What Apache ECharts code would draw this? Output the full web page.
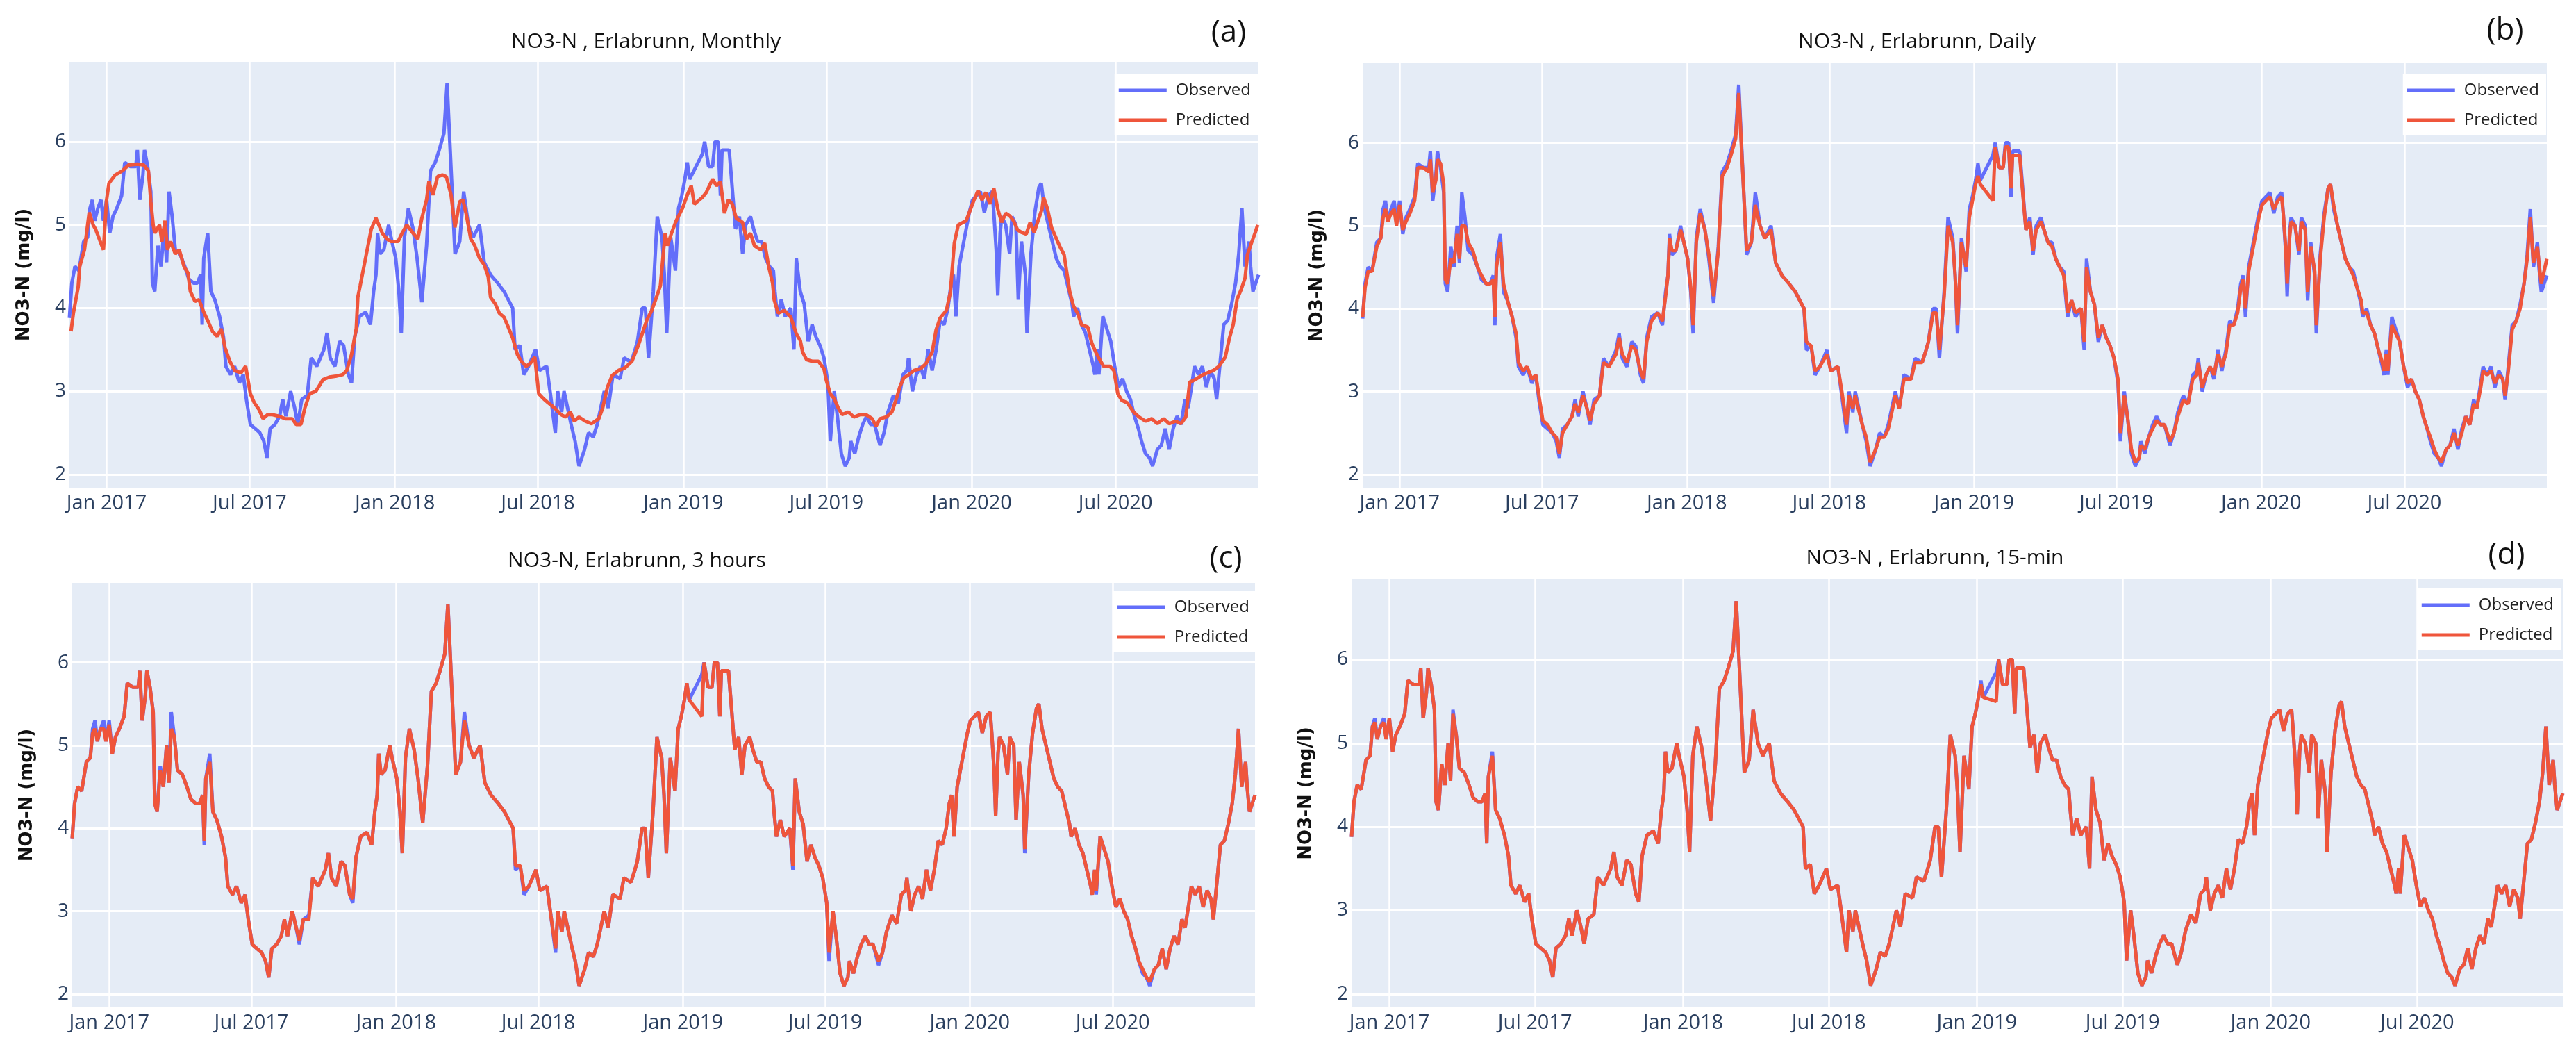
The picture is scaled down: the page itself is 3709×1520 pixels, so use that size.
<!DOCTYPE html>
<html><head><meta charset="utf-8">
<script src="https://cdn.jsdelivr.net/npm/echarts@6/dist/echarts.min.js"></script>
<style>html,body{margin:0;padding:0;background:#fff}#c{width:3709px;height:1520px}</style>
</head><body><div id="c"></div><script>
// ---------- DATA ----------
const startDate = '2016-11-15';   // day 0
const endDay = 1505;
const xTickDates = ['2017-01-01','2017-07-01','2018-01-01','2018-07-01','2019-01-01','2019-07-01','2020-01-01','2020-07-01'];
const xTickLabels = ['Jan 2017','Jul 2017','Jan 2018','Jul 2018','Jan 2019','Jul 2019','Jan 2020','Jul 2020'];
const yTicks = [2,3,4,5,6];
const panelTitles = ['NO3-N , Erlabrunn, Monthly','NO3-N , Erlabrunn, Daily','NO3-N, Erlabrunn, 3 hours','NO3-N , Erlabrunn, 15-min'];
const panelTags = ['(a)','(b)','(c)','(d)'];
const seriesNames = ['Observed','Predicted'];

// observed NO3-N, days since startDate
const obsDay = [
0,3,7,12,18,23,26,29,32,36,
40,43,47,51,55,60,66,70,77,84,
86,89,93,95,99,103,105,108,112,116,
120,123,126,130,134,140,146,151,157,162,
166,168,170,175,179,184,190,195,198,204,
209,215,220,224,229,235,241,246,250,254,
260,266,270,274,280,285,289,294,301,306,
313,322,326,330,336,342,347,353,357,361,
367,375,381,385,388,390,393,398,404,407,
413,417,420,424,429,435,440,446,452,457,
463,468,474,478,488,494,499,505,511,519,
525,533,542,550,561,564,570,575,581,590,
595,604,609,615,618,623,626,635,640,645,
652,657,663,668,677,682,688,697,702,711,
716,719,725,729,733,739,744,750,753,756,
761,767,771,775,779,782,785,801,804,809,
814,817,821,824,826,831,835,838,843,848,
852,856,862,866,871,876,881,886,891,893,
896,901,906,913,917,920,925,930,935,940,
945,950,955,960,963,968,972,977,982,987,
989,994,999,1004,1009,1014,1019,1026,1031,1036,
1043,1049,1055,1060,1062,1067,1072,1077,1082,1087,
1092,1097,1102,1107,1112,1116,1119,1122,1126,1130,
1134,1139,1143,1148,1153,1158,1163,1168,1170,1173,
1175,1178,1180,1185,1190,1193,1198,1201,1205,1210,
1212,1217,1222,1227,1230,1234,1239,1244,1249,1254,
1259,1264,1269,1271,1276,1281,1286,1291,1296,1298,
1301,1303,1308,1313,1318,1323,1328,1333,1338,1343,
1348,1353,1357,1362,1367,1371,1377,1382,1387,1392,
1397,1402,1407,1412,1416,1421,1424,1429,1434,1439,
1444,1449,1452,1456,1461,1466,1471,1476,1480,1484,
1488,1493,1495,1498,1505];
const obsVal = [
3.88,4.3,4.5,4.45,4.8,4.85,5.2,5.3,5.05,5.2,
5.3,5.05,5.3,4.9,5.1,5.2,5.35,5.75,5.7,5.7,
5.9,5.3,5.6,5.9,5.7,5.4,4.3,4.2,4.75,4.5,
5.0,4.55,5.4,5.1,4.7,4.65,4.5,4.35,4.3,4.3,
4.4,3.8,4.6,4.9,4.2,4.1,3.9,3.65,3.3,3.2,
3.3,3.1,3.2,2.9,2.6,2.55,2.5,2.4,2.2,2.55,
2.6,2.7,2.9,2.7,3.0,2.8,2.6,2.9,2.95,3.4,
3.3,3.5,3.7,3.4,3.3,3.6,3.55,3.2,3.1,3.65,
3.9,3.95,3.8,4.2,4.4,4.9,4.65,4.7,5.0,4.85,
4.6,4.2,3.7,4.85,5.2,4.95,4.6,4.07,4.75,5.65,
5.75,5.9,6.1,6.7,4.65,4.8,5.4,5.0,4.85,5.0,
4.55,4.4,4.3,4.2,4.0,3.5,3.55,3.2,3.3,3.5,
3.25,3.3,2.95,2.5,3.0,2.75,3.0,2.6,2.4,2.1,
2.3,2.5,2.45,2.6,3.0,2.8,3.2,3.15,3.4,3.35,
3.5,3.6,4.0,4.0,3.4,4.2,5.1,4.85,4.4,3.7,
4.85,4.45,5.2,5.35,5.55,5.75,5.55,5.85,6.0,5.7,
5.7,6.0,6.0,5.35,5.9,5.9,5.9,5.55,4.95,5.1,
4.65,5.0,5.1,4.95,4.8,4.8,4.6,4.5,4.45,4.2,
3.9,4.1,3.9,4.0,3.5,4.6,4.2,4.05,3.6,3.8,
3.65,3.55,3.4,3.1,2.4,3.0,2.7,2.25,2.1,2.2,
2.4,2.25,2.45,2.6,2.7,2.6,2.6,2.35,2.5,2.75,
2.95,2.85,3.2,3.25,3.4,3.0,3.2,3.3,3.15,3.5,
3.25,3.5,3.85,3.8,4.0,4.3,4.4,3.9,4.5,4.7,
4.9,5.15,5.3,5.35,5.4,5.15,5.35,5.4,5.15,4.7,
4.15,4.9,5.1,5.0,4.65,5.1,5.0,4.1,4.8,4.4,
3.7,4.65,5.15,5.45,5.5,5.2,5.0,4.8,4.6,4.5,
4.45,4.25,4.05,3.9,4.0,3.8,3.7,3.5,3.3,3.2,
3.5,3.2,3.9,3.75,3.6,3.3,3.05,3.15,3.0,2.9,
2.7,2.55,2.4,2.25,2.2,2.1,2.3,2.35,2.55,2.3,
2.55,2.7,2.6,2.9,2.8,3.1,3.3,3.2,3.3,3.05,
3.25,3.15,2.9,3.3,3.8,3.85,4.05,4.3,4.65,5.2,
4.5,4.8,4.5,4.2,4.4];

// predicted, daily model (same days as observed)
const predDailyVal = [
3.9,4.25,4.45,4.45,4.75,4.85,5.1,5.2,5.05,5.15,
5.2,5.0,5.25,4.95,5.05,5.15,5.3,5.7,5.7,5.65,
5.8,5.4,5.55,5.8,5.75,5.5,4.35,4.3,4.6,4.55,
4.9,4.6,5.0,5.0,4.8,4.7,4.5,4.4,4.3,4.3,
4.35,3.9,4.5,4.8,4.3,4.1,3.9,3.7,3.35,3.25,
3.3,3.15,3.2,2.95,2.65,2.6,2.5,2.45,2.25,2.5,
2.6,2.7,2.85,2.75,2.95,2.8,2.65,2.85,2.95,3.35,
3.3,3.45,3.65,3.45,3.35,3.55,3.5,3.25,3.15,3.6,
3.85,3.95,3.85,4.15,4.4,4.85,4.7,4.7,4.95,4.85,
4.6,4.25,3.8,4.8,5.15,4.95,4.65,4.15,4.7,5.6,
5.7,5.85,6.05,6.6,4.7,4.8,5.25,5.0,4.85,4.95,
4.55,4.4,4.3,4.2,4.0,3.6,3.55,3.25,3.3,3.45,
3.25,3.3,3.0,2.6,2.95,2.8,2.95,2.6,2.45,2.15,
2.3,2.45,2.45,2.55,2.95,2.8,3.15,3.15,3.35,3.35,
3.5,3.6,3.95,3.95,3.5,4.15,5.0,4.8,4.4,3.8,
4.8,4.5,5.1,5.3,5.5,5.6,5.5,5.3,5.95,5.7,
5.7,5.95,5.95,5.45,5.85,5.85,5.85,5.5,4.95,5.05,
4.7,4.95,5.05,4.95,4.8,4.75,4.6,4.5,4.4,4.25,
3.95,4.1,3.95,4.0,3.6,4.5,4.2,4.05,3.65,3.8,
3.65,3.55,3.4,3.15,2.5,2.95,2.7,2.3,2.15,2.2,
2.35,2.3,2.45,2.55,2.65,2.6,2.6,2.4,2.5,2.7,
2.9,2.85,3.15,3.2,3.35,3.05,3.2,3.3,3.2,3.45,
3.3,3.45,3.8,3.8,3.95,4.25,4.35,4.0,4.45,4.65,
4.85,5.1,5.25,5.3,5.35,5.2,5.3,5.35,5.15,4.75,
4.3,4.85,5.05,5.0,4.7,5.05,4.95,4.2,4.75,4.45,
3.8,4.6,5.1,5.45,5.5,5.25,5.0,4.8,4.6,4.5,
4.4,4.25,4.1,3.95,3.95,3.8,3.7,3.5,3.35,3.25,
3.45,3.25,3.8,3.7,3.6,3.3,3.1,3.15,3.0,2.9,
2.7,2.55,2.45,2.3,2.2,2.15,2.3,2.35,2.5,2.35,
2.5,2.7,2.6,2.85,2.8,3.05,3.25,3.2,3.25,3.1,
3.2,3.15,2.95,3.25,3.75,3.85,4.0,4.3,4.6,5.1,
4.55,4.75,4.55,4.3,4.6];

// predicted, 3-hour model
const pred3hVal = [
3.88,4.3,4.5,4.45,4.8,4.85,5.15,5.2,5.05,5.2,
5.2,5.05,5.25,4.9,5.1,5.2,5.35,5.75,5.7,5.7,
5.9,5.3,5.6,5.9,5.7,5.4,4.3,4.2,4.7,4.5,
5.0,4.55,5.2,5.1,4.7,4.65,4.5,4.35,4.3,4.3,
4.4,3.85,4.6,4.8,4.2,4.1,3.9,3.65,3.3,3.2,
3.3,3.1,3.2,2.9,2.6,2.55,2.5,2.4,2.2,2.55,
2.6,2.7,2.9,2.7,3.0,2.8,2.65,2.9,2.9,3.4,
3.3,3.5,3.7,3.4,3.3,3.6,3.55,3.2,3.15,3.65,
3.9,3.95,3.8,4.2,4.4,4.9,4.65,4.7,5.0,4.85,
4.6,4.2,3.7,4.85,5.2,4.95,4.6,4.07,4.75,5.65,
5.75,5.9,6.1,6.7,4.65,4.8,5.3,5.0,4.85,5.0,
4.55,4.4,4.3,4.2,4.0,3.55,3.55,3.25,3.3,3.5,
3.25,3.3,2.95,2.55,3.0,2.75,3.0,2.6,2.4,2.1,
2.3,2.5,2.45,2.6,3.0,2.8,3.2,3.15,3.4,3.35,
3.5,3.6,4.0,4.0,3.4,4.2,5.1,4.85,4.4,3.7,
4.85,4.45,5.2,5.35,5.55,5.75,5.55,5.35,6.0,5.7,
5.7,6.0,6.0,5.35,5.9,5.9,5.9,5.55,4.95,5.1,
4.65,5.0,5.1,4.95,4.8,4.8,4.6,4.5,4.45,4.2,
3.9,4.1,3.9,4.0,3.55,4.6,4.2,4.05,3.6,3.8,
3.65,3.55,3.4,3.1,2.5,3.0,2.7,2.25,2.1,2.2,
2.4,2.25,2.45,2.6,2.7,2.6,2.6,2.4,2.5,2.75,
2.95,2.85,3.2,3.25,3.4,3.0,3.2,3.3,3.15,3.5,
3.25,3.5,3.85,3.8,4.0,4.3,4.4,3.9,4.5,4.7,
4.9,5.15,5.3,5.35,5.4,5.15,5.35,5.4,5.15,4.7,
4.15,4.9,5.1,5.0,4.65,5.1,5.0,4.1,4.8,4.4,
3.75,4.65,5.15,5.45,5.5,5.2,5.0,4.8,4.6,4.5,
4.45,4.25,4.05,3.9,4.0,3.8,3.7,3.5,3.3,3.2,
3.5,3.25,3.9,3.75,3.6,3.3,3.05,3.15,3.0,2.9,
2.7,2.55,2.4,2.3,2.2,2.15,2.3,2.35,2.55,2.3,
2.55,2.7,2.6,2.9,2.8,3.1,3.3,3.2,3.3,3.05,
3.25,3.15,2.9,3.3,3.8,3.85,4.05,4.3,4.65,5.2,
4.5,4.8,4.5,4.2,4.4];

// predicted, 15-min model
const pred15Val = [
3.88,4.3,4.5,4.45,4.8,4.85,5.2,5.25,5.05,5.2,
5.25,5.05,5.3,4.9,5.1,5.2,5.35,5.75,5.7,5.7,
5.9,5.3,5.6,5.9,5.7,5.4,4.3,4.2,4.75,4.5,
5.0,4.55,5.35,5.1,4.7,4.65,4.5,4.35,4.3,4.3,
4.4,3.8,4.6,4.85,4.2,4.1,3.9,3.65,3.3,3.2,
3.3,3.1,3.2,2.9,2.6,2.55,2.5,2.4,2.2,2.55,
2.6,2.7,2.9,2.7,3.0,2.8,2.6,2.9,2.95,3.4,
3.3,3.5,3.7,3.4,3.3,3.6,3.55,3.2,3.1,3.65,
3.9,3.95,3.8,4.2,4.4,4.9,4.65,4.7,5.0,4.85,
4.6,4.2,3.7,4.85,5.2,4.95,4.6,4.07,4.75,5.65,
5.75,5.9,6.1,6.7,4.65,4.8,5.4,5.0,4.85,5.0,
4.55,4.4,4.3,4.2,4.0,3.5,3.55,3.2,3.3,3.5,
3.25,3.3,2.95,2.5,3.0,2.75,3.0,2.6,2.4,2.1,
2.3,2.5,2.45,2.6,3.0,2.8,3.2,3.15,3.4,3.35,
3.5,3.6,4.0,4.0,3.4,4.2,5.1,4.85,4.4,3.7,
4.85,4.45,5.2,5.35,5.55,5.7,5.55,5.5,6.0,5.7,
5.7,6.0,6.0,5.35,5.9,5.9,5.9,5.55,4.95,5.1,
4.65,5.0,5.1,4.95,4.8,4.8,4.6,4.5,4.45,4.2,
3.9,4.1,3.9,4.0,3.5,4.6,4.2,4.05,3.6,3.8,
3.65,3.55,3.4,3.1,2.4,3.0,2.7,2.25,2.1,2.2,
2.4,2.25,2.45,2.6,2.7,2.6,2.6,2.35,2.5,2.75,
2.95,2.85,3.2,3.25,3.4,3.0,3.2,3.3,3.15,3.5,
3.25,3.5,3.85,3.8,4.0,4.3,4.4,3.9,4.5,4.7,
4.9,5.15,5.3,5.35,5.4,5.15,5.35,5.4,5.15,4.7,
4.15,4.9,5.1,5.0,4.65,5.1,5.0,4.1,4.8,4.4,
3.7,4.65,5.15,5.45,5.5,5.2,5.0,4.8,4.6,4.5,
4.45,4.25,4.05,3.9,4.0,3.8,3.7,3.5,3.3,3.2,
3.5,3.2,3.9,3.75,3.6,3.3,3.05,3.15,3.0,2.9,
2.7,2.55,2.4,2.25,2.2,2.1,2.3,2.35,2.55,2.3,
2.55,2.7,2.6,2.9,2.8,3.1,3.3,3.2,3.3,3.05,
3.25,3.15,2.9,3.3,3.8,3.85,4.05,4.3,4.65,5.2,
4.5,4.8,4.5,4.2,4.4];

// predicted, monthly model (own sampling days)
const predMonthlyDay = [
2,5,11,13,19,25,30,33,39,43,
47,50,58,67,75,86,94,100,103,106,
108,114,117,121,124,128,134,139,145,150,
153,159,164,170,175,181,187,192,197,203,
209,217,223,229,234,240,245,251,256,265,
273,282,287,293,298,304,312,321,329,337,
346,351,357,363,365,368,382,388,396,402,
407,416,421,427,435,441,446,452,455,460,
466,472,477,483,488,494,498,502,508,513,
519,525,530,533,539,544,550,555,561,567,
572,578,583,589,594,600,606,614,622,628,
634,639,645,653,661,670,675,681,687,695,
703,712,720,726,731,737,743,748,754,757,
762,768,776,782,787,791,801,806,814,819,
824,829,834,839,844,852,857,862,867,875,
880,885,890,892,897,905,913,920,925,928,
933,940,948,955,958,963,968,973,978,986,
993,1001,1008,1016,1021,1026,1034,1041,1046,1051,
1056,1061,1069,1077,1084,1092,1097,1102,1110,1115,
1120,1125,1135,1145,1150,1155,1160,1165,1170,1175,
1180,1185,1190,1195,1200,1205,1211,1216,1221,1226,
1231,1233,1238,1243,1248,1253,1259,1266,1271,1276,
1281,1289,1294,1299,1304,1309,1317,1322,1327,1332,
1339,1347,1354,1362,1370,1377,1385,1392,1400,1407,
1413,1418,1425,1433,1440,1448,1455,1463,1468,1473,
1478,1483,1488,1491,1496,1501,1504];
const predMonthlyVal = [
3.72,3.94,4.25,4.5,4.7,5.15,5.0,4.95,4.8,4.7,
5.3,5.5,5.6,5.65,5.72,5.73,5.72,5.65,5.28,5.0,
4.9,5.0,4.8,5.05,4.7,4.8,4.65,4.7,4.5,4.42,
4.2,4.08,4.1,3.95,3.85,3.72,3.66,3.75,3.52,3.36,
3.25,3.22,3.3,2.97,2.86,2.78,2.67,2.72,2.72,2.7,
2.67,2.67,2.6,2.6,2.8,2.97,3.0,3.14,3.17,3.18,
3.2,3.25,3.44,3.75,4.13,4.27,4.95,5.08,4.9,4.83,
4.8,4.8,4.9,5.0,4.9,4.83,5.08,5.3,5.52,5.36,
5.58,5.6,5.58,5.36,4.97,5.28,5.3,5.14,4.83,4.75,
4.6,4.52,4.38,4.13,4.05,3.94,3.89,3.78,3.64,3.44,
3.36,3.3,3.33,3.41,2.97,2.91,2.86,2.8,2.72,2.69,
2.75,2.64,2.69,2.64,2.61,2.67,2.8,3.05,3.19,3.25,
3.28,3.36,3.55,3.72,3.86,3.97,4.13,4.27,4.9,4.75,
4.9,5.05,5.2,5.36,5.47,5.25,5.33,5.39,5.55,5.47,
5.52,5.14,5.3,5.25,5.08,5.03,4.83,4.9,4.75,4.7,
4.78,4.5,4.3,4.1,3.94,3.97,3.89,3.69,3.61,3.47,
3.38,3.36,3.36,3.27,3.13,2.97,2.91,2.8,2.72,2.75,
2.69,2.72,2.72,2.67,2.58,2.67,2.69,2.75,2.89,3.05,
3.16,3.19,3.25,3.27,3.33,3.47,3.74,3.88,3.97,4.19,
4.78,5.0,5.05,5.3,5.41,5.3,5.39,5.25,5.44,5.19,
5.03,5.14,5.11,5.05,4.94,4.91,4.89,5.03,4.91,5.05,
5.19,5.33,5.19,4.97,4.86,4.75,4.64,4.2,4.02,3.94,
3.8,3.77,3.58,3.47,3.38,3.3,3.3,3.25,2.97,2.89,
2.86,2.75,2.69,2.64,2.67,2.61,2.67,2.61,2.64,2.61,
2.69,3.11,3.14,3.19,3.22,3.25,3.3,3.41,3.63,3.8,
4.11,4.22,4.36,4.64,4.78,4.91,5.0];

// ---------- CHART ----------
const DAY = 86400000;
const t0 = new Date(startDate + 'T00:00:00Z').getTime();
const tEnd = t0 + endDay * DAY;
const xTickTs = xTickDates.map(d => new Date(d + 'T00:00:00Z').getTime());
const pts = (days, vals) => days.map((d, i) => [t0 + d * DAY, vals[i]]);

const grids = [
  {left: 100, top: 89, width: 1712, height: 613},
  {left: 1962, top: 91, width: 1705, height: 611},
  {left: 104, top: 839, width: 1703, height: 611},
  {left: 1946, top: 834, width: 1744, height: 616}
];
const titlePos = [[930, 45], [2760, 45], [917, 792], [2786, 788]];
const tagPos = [[1769, 25], [3607, 22], [1765, 782], [3609, 777]];
const legendPos = [[1898, 106], [43, 106], [1900, 850], [22, 847]];

const obsPts = pts(obsDay, obsVal);
const predPts = [
  pts(predMonthlyDay, predMonthlyVal),
  pts(obsDay, predDailyVal),
  pts(obsDay, pred3hVal),
  pts(obsDay, pred15Val)
];
const BLUE = '#636efa', RED = '#ef553b';
const TICKC = '#2a3f5f';
const FONT = '"Open Sans", sans-serif';

const option = {
  animation: false,
  backgroundColor: '#ffffff',
  textStyle: {fontFamily: FONT},
  title: [],
  legend: [],
  grid: [],
  xAxis: [],
  yAxis: [],
  series: []
};
grids.forEach((g, i) => {
  option.grid.push(Object.assign({show: true, backgroundColor: '#e5ecf6', borderWidth: 0}, g));
  option.title.push({text: panelTitles[i], left: titlePos[i][0], top: titlePos[i][1], textAlign: 'center', padding: 0,
    textStyle: {fontFamily: FONT, fontSize: 30, fontWeight: 'normal', color: '#111'}});
  option.title.push({text: panelTags[i], left: tagPos[i][0], top: tagPos[i][1], textAlign: 'center', padding: 0,
    textStyle: {fontFamily: FONT, fontSize: 44, fontWeight: 'normal', color: '#111'}});
  option.legend.push({
    data: seriesNames, orient: 'vertical', right: legendPos[i][0], top: legendPos[i][1],
    backgroundColor: '#ffffff', padding: [12, 10, 9, 6], itemGap: 19,
    itemWidth: 69, itemHeight: 5, icon: 'rect', selectedMode: false,
    textStyle: {fontFamily: FONT, fontSize: 24, color: '#222', padding: [0, 0, 0, 8]}
  });
  option.xAxis.push({
    type: 'value', gridIndex: i, min: t0, max: tEnd, scale: true,
    axisLine: {show: false},
    axisTick: {show: false, customValues: xTickTs},
    axisLabel: {customValues: xTickTs, fontFamily: FONT, fontSize: 29, color: TICKC, margin: 8, hideOverlap: false,
      formatter: v => { const k = xTickTs.indexOf(v); return k >= 0 ? xTickLabels[k] : ''; }},
    splitLine: {show: true, lineStyle: {color: '#ffffff', width: 2.5}}
  });
  option.yAxis.push({
    type: 'value', gridIndex: i, min: 1.84, max: 6.96,
    name: 'NO3-N (mg/l)', nameLocation: 'middle', nameGap: 52,
    nameTextStyle: {fontFamily: 'DejaVu Sans', fontSize: 26, fontWeight: 'bold', color: '#111'},
    axisLine: {show: false},
    axisTick: {show: false, customValues: yTicks},
    axisLabel: {customValues: yTicks, fontFamily: FONT, fontSize: 28, color: TICKC, margin: 5},
    splitLine: {show: true, lineStyle: {color: '#ffffff', width: 3}}
  });
  option.series.push({
    name: 'Observed', type: 'line', xAxisIndex: i, yAxisIndex: i, data: obsPts,
    showSymbol: false, symbol: 'none', color: BLUE, itemStyle: {color: BLUE},
    lineStyle: {color: BLUE, width: 5}, z: 3
  });
  option.series.push({
    name: 'Predicted', type: 'line', xAxisIndex: i, yAxisIndex: i, data: predPts[i],
    showSymbol: false, symbol: 'none', color: RED, itemStyle: {color: RED},
    lineStyle: {color: RED, width: 5}, z: 4
  });
});
const chart = echarts.init(document.getElementById('c'), null, {renderer: 'canvas'});
chart.setOption(option);
</script></body></html>
